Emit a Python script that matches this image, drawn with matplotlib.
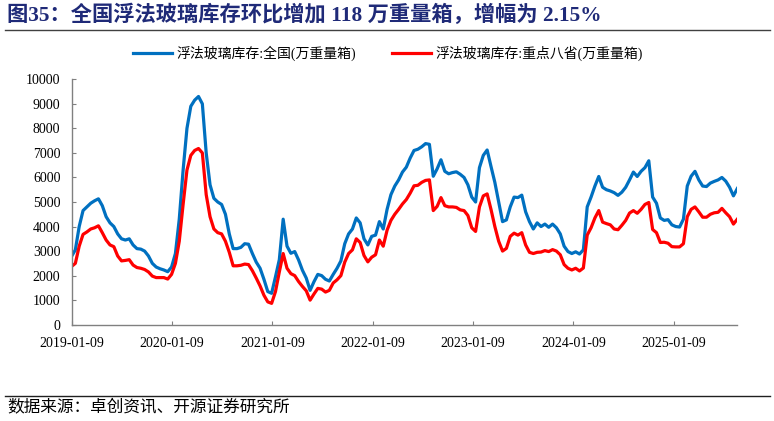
import numpy as np
import pandas as pd
import matplotlib
matplotlib.use("Agg")
import matplotlib.pyplot as plt
import matplotlib.dates as mdates
from matplotlib.lines import Line2D

plt.rcParams['font.family'] = ['Liberation Serif', 'Noto Sans CJK SC', 'DejaVu Sans']

# biweekly readings, starting 2019-01-09
start_date = "2019-01-09"
step_days = 14

# 浮法玻璃库存:全国(万重量箱)
national = [
    2780, 3050, 4000, 4650, 4800, 4950, 5050, 5130, 4850, 4400,
    4150, 4000, 3700, 3500, 3450, 3500, 3250, 3100, 3080, 3000,
    2800, 2500, 2350, 2280, 2230, 2160, 2350, 2900, 4300, 6300,
    8000, 8900, 9150, 9300, 9000, 7000, 5700, 5150, 5000, 4900,
    4500, 3700, 3100, 3100, 3150, 3300, 3280, 2900, 2550, 2300,
    1850, 1350, 1280, 1950, 2650, 4300, 3200, 2910, 2980, 2640,
    2220, 1900, 1400, 1750, 2050, 2000, 1850, 1780, 2050, 2300,
    2600, 3300, 3700, 3900, 4350, 4150, 3500, 3250, 3600, 3650,
    4200, 3900, 4700, 5300, 5650, 5900, 6220, 6420, 6790, 7100,
    7150, 7250, 7380, 7350, 6050, 6350, 6720, 6250, 6150, 6200,
    6230, 6130, 6000, 5700, 5200, 5000, 6400, 6900, 7120, 6450,
    5800, 5000, 4200, 4270, 4800, 5200, 5180, 5280, 4600, 4200,
    3900, 4150, 4000, 4100, 3970, 4100, 3950, 3700, 3200, 2980,
    2900, 2970, 2880, 3050, 4800, 5200, 5650, 6040, 5600, 5500,
    5450, 5380, 5270, 5400, 5600, 5900, 6220, 6040, 6250, 6400,
    6680, 5200, 4950, 4350, 4250, 4280, 4070, 4000, 3980, 4300,
    5650, 6050, 6250, 5900, 5650, 5630, 5770, 5840, 5900, 6000,
    5850, 5600, 5250, 5550,
]

# 浮法玻璃库存:重点八省(万重量箱)
eight_prov = [
    2370, 2500, 3200, 3680, 3780, 3900, 3950, 4030, 3750, 3450,
    3250, 3180, 2800, 2600, 2620, 2650, 2430, 2330, 2300, 2250,
    2150, 1980, 1920, 1920, 1920, 1860, 2050, 2500, 3400, 4900,
    6300, 6900, 7100, 7180, 7000, 5300, 4400, 3900, 3750, 3700,
    3400, 2950, 2400, 2400, 2420, 2470, 2450, 2200, 1900, 1580,
    1200, 930, 870, 1350, 2150, 2900, 2300, 2080, 2000, 1760,
    1560, 1380, 1000, 1250, 1480, 1450, 1330, 1400, 1700, 1830,
    2000, 2550, 2900, 3050, 3500, 3350, 2820, 2560, 2750, 2850,
    3450, 3200, 3850, 4250, 4500, 4700, 4920, 5100, 5360, 5660,
    5680, 5800, 5880, 5900, 4650, 4820, 5180, 4850, 4800, 4800,
    4780, 4680, 4650, 4450, 3950, 3800, 4800, 5250, 5330, 4700,
    4000, 3400, 3000, 3110, 3600, 3730, 3650, 3750, 3250, 2950,
    2900, 2950, 2960, 3020, 2980, 3060, 3000, 2850, 2450, 2300,
    2230, 2300, 2190, 2310, 3650, 3950, 4350, 4650, 4180, 4120,
    4070, 3900, 3870, 4050, 4250, 4550, 4650, 4540, 4700, 4900,
    4980, 3880, 3750, 3350, 3360, 3320, 3180, 3170, 3170, 3300,
    4400, 4700, 4800, 4600, 4380, 4380, 4500, 4560, 4580, 4740,
    4560, 4400, 4100, 4300,
]

tick_labels = ["2019-01-09", "2020-01-09", "2021-01-09", "2022-01-09",
               "2023-01-09", "2024-01-09", "2025-01-09"]
series_names = ["浮法玻璃库存:全国(万重量箱)", "浮法玻璃库存:重点八省(万重量箱)"]

dates = pd.date_range(start_date, periods=len(national), freq=f"{step_days}D")

fig = plt.figure(figsize=(7.74, 4.21), dpi=100)
W, H = 774, 421
ax = fig.add_axes([71.5 / W, (H - 324.7) / H, (737.3 - 71.5) / W, (324.7 - 79.3) / H])

ax.plot(dates, national, color="#0070C0", lw=2.3, label=series_names[0])
ax.plot(dates, eight_prov, color="#FF0000", lw=2.3, label=series_names[1])

ax.set_xlim(dates[0], dates[-1])
ax.set_ylim(0, 10000)
ax.set_yticks(np.arange(0, 10001, 1000))
ax.set_xticks(pd.to_datetime(tick_labels))
ax.set_xticklabels(tick_labels)

for side in ["top", "right"]:
    ax.spines[side].set_visible(False)
for side in ["left", "bottom"]:
    ax.spines[side].set_color("#808080")
    ax.spines[side].set_linewidth(1.0)
ax.tick_params(axis="both", direction="in", length=3, width=0.8, color="#808080",
               labelsize=10, labelcolor="black")
ax.tick_params(axis="x", pad=9)
ax.tick_params(axis="y", pad=8)

leg = ax.legend(loc="center", bbox_to_anchor=(388 / W, (H - 53) / H),
                bbox_transform=fig.transFigure, ncol=2, frameon=False,
                handlelength=2.8, columnspacing=2.6, handletextpad=0.35,
                prop={"family": ["Liberation Serif", "Noto Sans CJK SC"], "size": 10})

# title and rules
fig.text(7 / W, (H - 15) / H, "图35：全国浮法玻璃库存环比增加 118 万重量箱，增幅为 2.15%",
         fontsize=15.3, fontweight="bold", color="#1F2A78", va="center", ha="left")
fig.add_artist(Line2D([5 / W, 770 / W], [(H - 29.5) / H] * 2, color="#404040", lw=1.0,
                      transform=fig.transFigure))
fig.add_artist(Line2D([5 / W, 770 / W], [(H - 395.5) / H] * 2, color="#202020", lw=1.0,
                      transform=fig.transFigure))
fig.text(7 / W, (H - 407.5) / H, "数据来源：卓创资讯、开源证券研究所",
         fontsize=12, color="black", va="center", ha="left")

fig.savefig("out.png", dpi=100)
